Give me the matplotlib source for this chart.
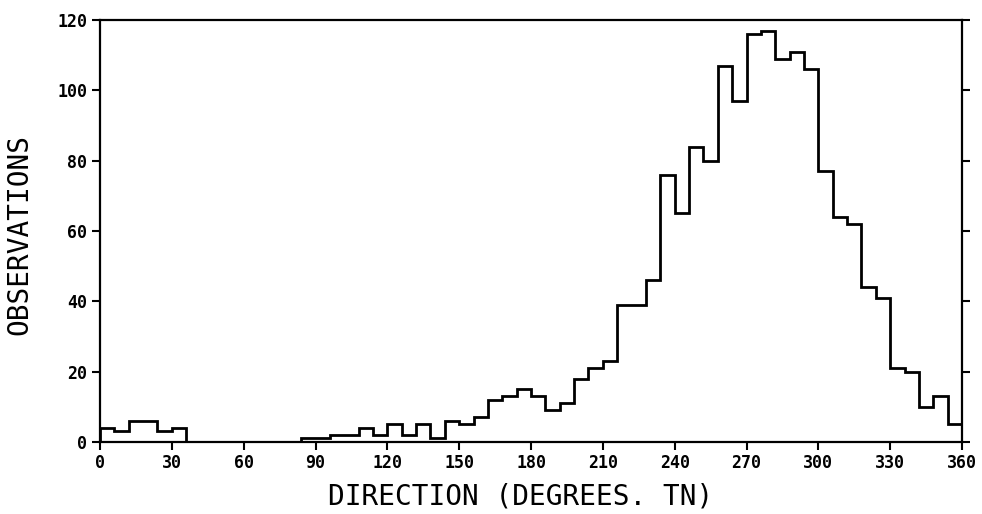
import numpy as np
import matplotlib
matplotlib.use("Agg")
import matplotlib.pyplot as plt

# Histogram of direction (6-degree bins, 0..360)
bin_width = 6
bin_edges = np.arange(0, 360 + bin_width, bin_width)
counts = [4, 3, 6, 6, 3, 4,
          0, 0, 0, 0, 0, 0, 0, 0,
          1, 1, 2, 2, 4, 2, 5, 2, 5, 1,
          6, 5, 7, 12, 13, 15, 13, 9, 11, 18,
          21, 23, 39, 39, 46, 76, 65, 84, 80, 107,
          97, 116, 117, 109, 111, 106, 77, 64, 62, 44,
          41, 21, 20, 10, 13, 5]

x_ticks = list(range(0, 361, 30))
y_ticks = list(range(0, 121, 20))
x_label = "DIRECTION (DEGREES. TN)"
y_label = "OBSERVATIONS"

fig = plt.figure(figsize=(9.82, 5.14), dpi=100)
ax = fig.add_axes([100/982, 1-442/514, 862/982, 422/514])

ax.stairs(counts, bin_edges, color="black", linewidth=2.0, baseline=0)

ax.set_xlim(0, 360)
ax.set_ylim(0, 120)
ax.set_xticks(x_ticks)
ax.set_yticks(y_ticks)

tick_font = dict(family="DejaVu Sans Mono", weight="bold", size=12)
ax.set_xticklabels([str(t) for t in x_ticks], fontdict=tick_font)
ax.set_yticklabels([str(t) for t in y_ticks], fontdict=tick_font)

ax.tick_params(axis="both", direction="out", length=6, width=1.5, pad=3)
ax.tick_params(axis="y", right=True, labelright=False)
ax.tick_params(axis="x", top=False)

for s in ax.spines.values():
    s.set_linewidth(1.6)

fig.text(521/982, 1-496/514, x_label, ha="center", va="center",
         family="DejaVu Sans Mono", fontsize=20)
fig.text(19/982, 1-235/514, y_label, ha="center", va="center", rotation=90,
         family="DejaVu Sans Mono", fontsize=20)

fig.savefig("out.png", dpi=100, facecolor="white")
